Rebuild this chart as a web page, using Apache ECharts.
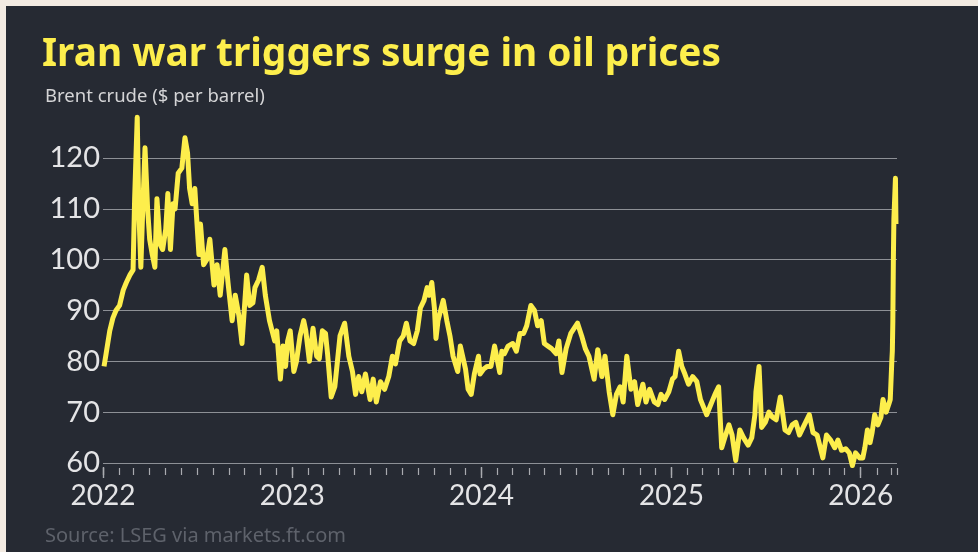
<!DOCTYPE html>
<html>
<head>
<meta charset="utf-8">
<script src="https://cdn.jsdelivr.net/npm/echarts@6/dist/echarts.min.js"></script>
<style>
  html, body { margin: 0; padding: 0; background: #f3ebe2; }
  #chart { position: absolute; left: 6px; top: 6px; width: 972px; height: 546px; background: #262a33; }
</style>
</head>
<body>
<div id="chart"></div>
<script>
// Brent crude, $ per barrel
const brent2022 = [
  ['2022-01-03',79],['2022-01-07',81.5],['2022-01-14',86],['2022-01-20',88.5],['2022-01-26',90],
  ['2022-02-02',91],['2022-02-09',94],['2022-02-15',95.5],['2022-02-22',97],['2022-02-28',98],
  ['2022-03-03',112],['2022-03-08',128],['2022-03-11',110],['2022-03-15',98.5],['2022-03-18',108],
  ['2022-03-23',122],['2022-03-28',110],['2022-04-01',104],['2022-04-06',101],['2022-04-11',98.5],
  ['2022-04-15',112],['2022-04-21',103],['2022-04-26',102],['2022-05-02',106],['2022-05-06',113],
  ['2022-05-11',102],['2022-05-16',111],['2022-05-20',110],['2022-05-26',117],['2022-06-02',118],
  ['2022-06-08',124],['2022-06-13',121],['2022-06-17',114],['2022-06-22',111],['2022-06-27',114],
  ['2022-07-05',101],['2022-07-08',107],['2022-07-14',99],['2022-07-20',100],['2022-07-26',104],
  ['2022-08-03',95],['2022-08-09',99],['2022-08-15',93],['2022-08-24',102],['2022-08-30',95.5],
  ['2022-09-07',88],['2022-09-13',93],['2022-09-20',89],['2022-09-26',83.5],['2022-10-05',97],
  ['2022-10-11',91],['2022-10-17',91.5],['2022-10-21',94.5],['2022-10-28',96],['2022-11-04',98.5],
  ['2022-11-10',93],['2022-11-18',88],['2022-11-28',84],['2022-12-02',86],['2022-12-09',76.5],
  ['2022-12-14',83],['2022-12-19',79],['2022-12-23',84],['2022-12-28',86]
];
const brent2023 = [
  ['2023-01-04',78],['2023-01-09',80],['2023-01-16',85],['2023-01-23',88],['2023-01-27',86],
  ['2023-02-03',80],['2023-02-10',86.5],['2023-02-17',81],['2023-02-22',80.5],['2023-02-28',86],
  ['2023-03-06',85.5],['2023-03-10',81.5],['2023-03-17',73],['2023-03-24',75],['2023-04-03',85],
  ['2023-04-12',87.5],['2023-04-20',81],['2023-04-27',78],['2023-05-03',73.5],['2023-05-09',77],
  ['2023-05-15',74],['2023-05-22',77.5],['2023-05-31',72.5],['2023-06-06',76.5],['2023-06-12',72],
  ['2023-06-20',76],['2023-06-28',74.5],['2023-07-06',77],['2023-07-13',81],['2023-07-19',79.5],
  ['2023-07-27',84],['2023-08-03',85],['2023-08-09',87.5],['2023-08-16',84],['2023-08-23',83.5],
  ['2023-08-30',86],['2023-09-05',90.5],['2023-09-12',92],['2023-09-18',94.5],['2023-09-22',93],
  ['2023-09-27',95.5],['2023-10-02',90.5],['2023-10-05',84.5],['2023-10-09',88],['2023-10-19',92],
  ['2023-10-26',88],['2023-11-01',85],['2023-11-07',81],['2023-11-16',78],['2023-11-21',83],
  ['2023-12-01',78.5],['2023-12-06',74.5],['2023-12-12',73.5],['2023-12-18',77.5],['2023-12-26',81],
  ['2023-12-29',77.5]
];
const brent2024 = [
  ['2024-01-05',78.5],['2024-01-12',79],['2024-01-19',79],['2024-01-26',83],['2024-02-05',77.8],
  ['2024-02-09',82],['2024-02-14',81.5],['2024-02-21',83],['2024-03-01',83.5],['2024-03-08',82],
  ['2024-03-15',85.5],['2024-03-22',85.5],['2024-03-28',87],['2024-04-05',91],['2024-04-12',90],
  ['2024-04-18',87],['2024-04-25',88],['2024-05-01',83.5],['2024-05-08',83],['2024-05-15',82.5],
  ['2024-05-24',81.5],['2024-05-29',84],['2024-06-04',77.8],['2024-06-12',82.5],['2024-06-21',85.5],
  ['2024-07-04',87.5],['2024-07-12',85],['2024-07-19',82.5],['2024-07-26',81],['2024-08-05',76.5],
  ['2024-08-12',82.3],['2024-08-20',77],['2024-08-26',81],['2024-09-03',74],['2024-09-10',69.5],
  ['2024-09-17',73.5],['2024-09-24',75],['2024-09-30',72],['2024-10-07',81],['2024-10-15',74.5],
  ['2024-10-22',76],['2024-10-28',71.5],['2024-11-07',75.5],['2024-11-13',72],['2024-11-20',74.5],
  ['2024-11-29',72],['2024-12-06',71.5],['2024-12-12',73.5],['2024-12-19',72.5],['2024-12-27',74]
];
const brent2025 = [
  ['2025-01-03',76.5],['2025-01-08',77],['2025-01-15',82],['2025-01-21',79],['2025-01-27',77.5],
  ['2025-02-03',75.5],['2025-02-11',77],['2025-02-19',76],['2025-02-26',72.5],['2025-03-04',71],
  ['2025-03-10',69.5],['2025-03-18',71.5],['2025-03-26',73.5],['2025-04-02',75],['2025-04-08',63],
  ['2025-04-14',65],['2025-04-22',67.5],['2025-04-28',65.5],['2025-05-05',60.5],['2025-05-13',66.5],
  ['2025-05-20',65],['2025-05-29',63.5],['2025-06-05',65],['2025-06-11',69.5],['2025-06-13',74],
  ['2025-06-19',79],['2025-06-24',67],['2025-07-01',68],['2025-07-08',70],['2025-07-15',69],
  ['2025-07-22',68.5],['2025-07-30',73],['2025-08-08',66.5],['2025-08-15',66],['2025-08-22',67.5],
  ['2025-08-29',68],['2025-09-05',65.5],['2025-09-12',67],['2025-09-24',69.5],['2025-10-01',66],
  ['2025-10-09',65.5],['2025-10-20',61],['2025-10-27',65.5],['2025-11-04',64.5],['2025-11-12',63],
  ['2025-11-18',64.5],['2025-11-25',62.5],['2025-12-03',62.8],['2025-12-10',62],['2025-12-16',59.5],
  ['2025-12-22',62],['2025-12-30',61]
];
const brent2026 = [
  ['2026-01-05',61],['2026-01-09',63],['2026-01-14',66.5],['2026-01-19',64],['2026-01-23',66],
  ['2026-01-28',69.5],['2026-02-03',67.5],['2026-02-09',69],['2026-02-13',72.5],['2026-02-19',70],
  ['2026-02-24',71.5],['2026-02-27',72.5],['2026-03-02',80],['2026-03-03',82],['2026-03-04',88],
  ['2026-03-05',100],['2026-03-06',108],['2026-03-09',116],['2026-03-10',107]
];
const yTicks = [60, 70, 80, 90, 100, 110, 120];
const xRange = ['2022-01-01', '2026-03-12'];

const titleText = 'Iran war triggers surge in oil prices';
const subtitleText = 'Brent crude ($ per barrel)';
const sourceText = 'Source: LSEG via markets.ft.com';

const series = [].concat(brent2022, brent2023, brent2024, brent2025, brent2026);

const chart = echarts.init(document.getElementById('chart'));
const DAY = 86400000;
chart.setOption({
  backgroundColor: '#262a33',
  animation: false,
  title: [
    { text: titleText, left: 31, top: 24,
      textStyle: { color: '#fdee4c', fontFamily: 'Noto Sans', fontWeight: 'bold', fontSize: 38.8 } },
    { text: subtitleText, left: 34, top: 76,
      textStyle: { color: '#d4d4d6', fontFamily: 'Noto Sans', fontWeight: 'normal', fontSize: 18.5 } },
    { text: sourceText, left: 34, top: 515,
      textStyle: { color: '#5e626b', fontFamily: 'Noto Sans', fontWeight: 'normal', fontSize: 20 } }
  ],
  grid: { left: 97, right: 81, top: 152, bottom: 89, containLabel: false },
  xAxis: [
    { type: 'time', position: 'bottom', min: xRange[0], max: xRange[1],
      minInterval: 28 * DAY, maxInterval: 31 * DAY,
      offset: 5,
      axisLine: { show: false },
      axisTick: { show: true, length: 7, lineStyle: { color: '#a9abb0', width: 1.2 } },
      axisLabel: { show: false },
      splitLine: { show: false } },
    { type: 'time', position: 'bottom', min: xRange[0], max: xRange[1],
      minInterval: 365 * DAY, maxInterval: 366 * DAY,
      offset: 4,
      axisLine: { show: false },
      axisTick: { show: true, length: 11, lineStyle: { color: '#a9abb0', width: 1.4 } },
      axisLabel: { show: true, margin: 15, color: '#e4e4e6', fontFamily: 'Lato', fontSize: 28,
        formatter: function (v) { return String(new Date(v).getFullYear()); }, hideOverlap: false,
        showMinLabel: true, showMaxLabel: false },
      splitLine: { show: false } }
  ],
  yAxis: {
    type: 'value', min: yTicks[0], max: yTicks[yTicks.length - 1], interval: 10,
    axisLine: { show: false }, axisTick: { show: false },
    axisLabel: { color: '#e4e4e6', fontFamily: 'Lato', fontSize: 29, margin: 3 },
    splitLine: { lineStyle: { color: '#8d9096', width: 1.2 } }
  },
  series: [{
    type: 'line', xAxisIndex: 0, data: series, showSymbol: false, symbol: 'none', clip: false,
    lineStyle: { color: '#fdee4c', width: 5, join: 'round' }
  }]
});
</script>
</body>
</html>
